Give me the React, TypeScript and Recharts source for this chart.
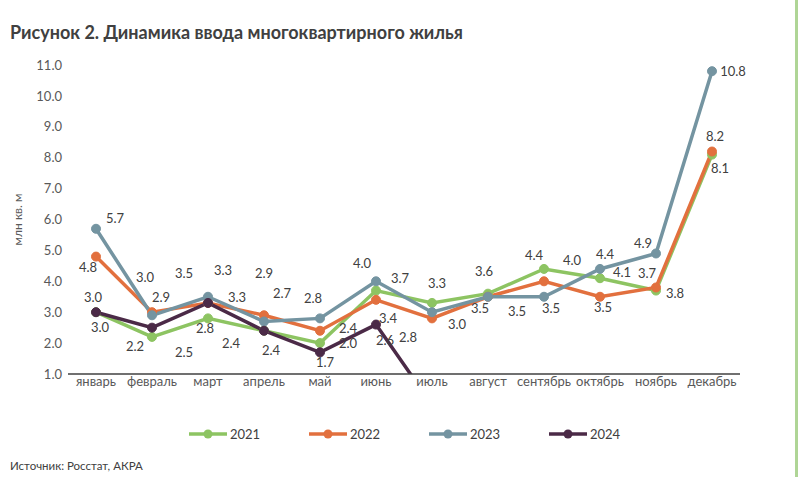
import React from 'react';
import { LineChart, Line, XAxis, YAxis } from 'recharts';

const months = ['январь', 'февраль', 'март', 'апрель', 'май', 'июнь', 'июль', 'август', 'сентябрь', 'октябрь', 'ноябрь', 'декабрь'];
const y2021 = [3.0, 2.2, 2.8, 2.4, 2.0, 3.7, 3.3, 3.6, 4.4, 4.1, 3.7, 8.1];
const y2022 = [4.8, 3.0, 3.3, 2.9, 2.4, 3.4, 2.8, 3.5, 4.0, 3.5, 3.8, 8.2];
const y2023 = [5.7, 2.9, 3.5, 2.7, 2.8, 4.0, 3.0, 3.5, 3.5, 4.4, 4.9, 10.8];
const y2024 = [3.0, 2.5, 3.3, 2.4, 1.7, 2.6, 0];
const yTicks = [1, 2, 3, 4, 5, 6, 7, 8, 9, 10, 11];

// label offsets (dx, dy) from each point, mimicking the hand-placed Excel labels
const off2021 = [[4, 15], [-17, 9], [-3, 10], [-33, 12], [28, 0], [24, -13], [5, -20], [-4, -23], [-10, -14], [22, -6], [-9, -18], [8, 13]];
const off2022 = [[-8, 10], [-7, -35], [15, -33], [0, -42], [28, -3], [12, 18], [-24, 19], [-8, 11], [28, -21], [3, 10], [19, 6], [3, -16]];
const off2023 = [[19, -11], [9, -18], [-24, -24], [18, -28], [-7, -20], [-14, -18], [25, 12], [29, 14], [7, 11], [5, -15], [-13, -10], [21, 0]];
const off2024 = [[-3, -15], [32, 24], [29, -6], [7, 19], [5, 10], [9, 15], [0, 0]];

const data = months.map((m, i) => ({
  month: m,
  '2021': y2021[i],
  '2022': y2022[i],
  '2023': y2023[i],
  '2024': i < y2024.length ? y2024[i] : null,
}));

const series = [
  { key: '2021', color: '#8dc462', offsets: off2021 },
  { key: '2022', color: '#e2703e', offsets: off2022 },
  { key: '2023', color: '#7494a1', offsets: off2023 },
  { key: '2024', color: '#4b2a47', offsets: off2024 },
];

const FONT = 'Lato, "Open Sans", sans-serif';

const makeLabel = (offsets: number[][]) => (props: any) => {
  const { x, y, value, index } = props;
  if (value == null || value < 1) return null;
  const [dx, dy] = offsets[index] || [0, -12];
  return (
    <text x={x + dx} y={y + dy} textAnchor="middle" dominantBaseline="central" fontSize={13} fill="#404040" fontFamily={FONT}>
      {Number(value).toFixed(1)}
    </text>
  );
};

const makeDot = (color: string) => (props: any) => {
  const { cx, cy, value, index } = props;
  if (value == null || value < 1) return <g key={`d-${index}`} />;
  return <circle key={`d-${index}`} cx={cx} cy={cy} r={4.5} fill={color} stroke={color} />;
};

const LegendRow = () => (
  <div style={{ display: 'flex', fontFamily: FONT, fontSize: 13, color: '#404040' }}>
    {series.map(s => (
      <div key={s.key} style={{ display: 'flex', alignItems: 'center', width: 120 }}>
        <svg width={40} height={12}>
          <line x1={1} y1={6} x2={39} y2={6} stroke={s.color} strokeWidth={3.5} />
          <circle cx={20} cy={6} r={4.5} fill={s.color} />
        </svg>
        <span style={{ marginLeft: 2 }}>{s.key}</span>
      </div>
    ))}
  </div>
);

const YLabel = (props: any) => {
  const { viewBox } = props;
  const cy = viewBox.y + viewBox.height / 2;
  return (
    <text x={17} y={cy} transform={`rotate(-90, 17, ${cy})`} textAnchor="middle" dominantBaseline="central" fontSize={12} fill="#595959" fontFamily={FONT}>
      млн кв. м
    </text>
  );
};

const App: React.FC = () => {
  return (
    <div style={{ position: 'fixed', left: 0, top: 0, width: 800, height: 477, background: '#fff', overflow: 'hidden' }}>
      <div style={{ position: 'absolute', left: 10, top: 21, fontFamily: FONT, fontWeight: 700, fontSize: 18, color: '#404040' }}>
        Рисунок 2. Динамика ввода многоквартирного жилья
      </div>
      <div style={{ position: 'absolute', left: 10, top: 459, fontFamily: FONT, fontSize: 11.5, color: '#404040' }}>
        Источник: Росстат, АКРА
      </div>
      <div style={{ position: 'absolute', left: 795, top: 0, width: 3, height: 477, background: '#afd596' }} />
      <div style={{ position: 'absolute', left: 188, top: 426 }}>
        <LegendRow />
      </div>
      <div style={{ position: 'absolute', left: 0, top: 0 }}>
        <LineChart width={800} height={477} data={data} margin={{ top: 65, right: 60, bottom: 73, left: 0 }}>
          <XAxis
            dataKey="month"
            height={30}
            padding={{ left: 28, right: 28 }}
            tick={{ fontSize: 13, fill: '#595959', fontFamily: FONT }}
            tickLine={false}
            axisLine={{ stroke: '#404040', strokeWidth: 1.5 }}
            tickSize={3}
            tickMargin={0}
            interval={0}
          />
          <YAxis
            width={68}
            domain={[1, 11]}
            ticks={yTicks}
            allowDataOverflow
            tickFormatter={(v: number) => v.toFixed(1)}
            tick={{ fontSize: 13, fill: '#595959', fontFamily: FONT }}
            tickLine={false}
            axisLine={false}
            tickSize={4}
            tickMargin={2}
            label={<YLabel />}
          />
          {series.map(s => (
            <Line
              key={s.key}
              dataKey={s.key}
              stroke={s.color}
              strokeWidth={3.5}
              dot={makeDot(s.color)}
              activeDot={false}
              label={makeLabel(s.offsets)}
              isAnimationActive={false}
              connectNulls={false}
            />
          ))}
        </LineChart>
      </div>
    </div>
  );
};

export default App;
